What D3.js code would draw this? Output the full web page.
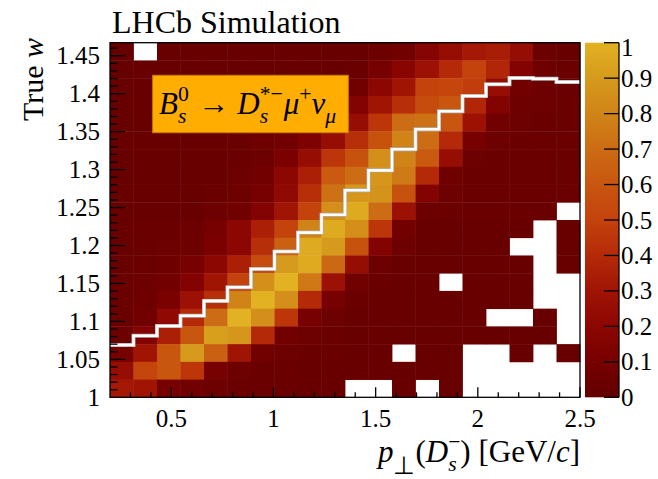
<!DOCTYPE html>
<html>
<head>
<meta charset="utf-8">
<script src="https://cdn.jsdelivr.net/npm/d3@7"></script>
<style>
  body { margin: 0; background: #fff; }
  svg { display: block; }
  text { font-family: "Liberation Serif", "Times New Roman", serif; fill: #000; }
</style>
</head>
<body>
<svg id="chart" width="658" height="479"></svg>
<script>
// binning of the 2D histogram
const ptRange = [0.2, 2.5];
const wRange = [1.0, 1.4672];
const nPt = 20;
const nW = 20;

// bin contents, one row per w bin, top row first (null = empty bin)
const z = [
  [0.02, null, 0.03, 0.03, 0.03, 0.03, 0.03, 0.03, 0.03, 0.03, 0.03, 0.05, 0.08, 0.17, 0.25, 0.32, 0.34, 0.25, 0.05, 0.03],
  [0.02, 0.03, 0.03, 0.03, 0.03, 0.03, 0.03, 0.03, 0.03, 0.03, 0.04, 0.10, 0.18, 0.28, 0.40, 0.50, 0.38, 0.15, 0.06, 0.04],
  [0.03, 0.03, 0.03, 0.03, 0.03, 0.03, 0.03, 0.03, 0.04, 0.05, 0.07, 0.20, 0.30, 0.50, 0.52, 0.48, 0.25, 0.08, 0.05, 0.04],
  [0.03, 0.03, 0.03, 0.03, 0.03, 0.03, 0.03, 0.04, 0.05, 0.08, 0.15, 0.30, 0.42, 0.55, 0.60, 0.38, 0.15, 0.06, 0.05, 0.04],
  [0.03, 0.03, 0.03, 0.03, 0.03, 0.03, 0.04, 0.05, 0.06, 0.12, 0.25, 0.45, 0.70, 0.72, 0.60, 0.28, 0.07, 0.05, 0.04, 0.04],
  [0.03, 0.03, 0.03, 0.03, 0.03, 0.04, 0.06, 0.08, 0.13, 0.25, 0.42, 0.58, 0.80, 0.70, 0.40, 0.10, 0.05, 0.04, 0.04, 0.04],
  [0.03, 0.03, 0.03, 0.03, 0.03, 0.04, 0.05, 0.12, 0.25, 0.45, 0.58, 0.85, 0.80, 0.62, 0.25, 0.05, 0.04, 0.04, 0.04, 0.04],
  [0.03, 0.03, 0.03, 0.03, 0.03, 0.05, 0.08, 0.20, 0.35, 0.62, 0.70, 0.88, 0.76, 0.40, 0.06, 0.04, 0.04, 0.04, 0.04, 0.04],
  [0.03, 0.03, 0.03, 0.03, 0.04, 0.06, 0.10, 0.22, 0.42, 0.72, 0.88, 0.87, 0.58, 0.15, 0.05, 0.04, 0.04, 0.04, 0.04, 0.04],
  [0.03, 0.03, 0.03, 0.03, 0.05, 0.07, 0.15, 0.30, 0.50, 0.85, 0.97, 0.70, 0.28, 0.05, 0.04, 0.04, 0.04, 0.04, 0.04, null],
  [0.03, 0.04, 0.04, 0.05, 0.10, 0.20, 0.35, 0.50, 0.80, 0.97, 0.85, 0.45, 0.08, 0.03, 0.03, 0.03, 0.03, 0.03, null, 0.03],
  [0.03, 0.04, 0.05, 0.06, 0.12, 0.20, 0.42, 0.65, 0.97, 0.90, 0.58, 0.15, 0.05, 0.03, 0.03, 0.03, 0.03, null, null, 0.03],
  [0.03, 0.04, 0.06, 0.10, 0.20, 0.35, 0.55, 0.90, 0.97, 0.68, 0.25, 0.05, 0.03, 0.03, 0.03, 0.03, 0.03, 0.03, null, 0.03],
  [0.04, 0.05, 0.08, 0.15, 0.30, 0.50, 0.85, 1.00, 0.75, 0.28, 0.07, 0.04, 0.03, 0.03, null, 0.03, 0.03, 0.03, null, null],
  [0.04, 0.06, 0.12, 0.28, 0.42, 0.80, 1.00, 0.85, 0.40, 0.10, 0.04, 0.03, 0.03, 0.03, 0.03, 0.03, 0.03, 0.03, null, null],
  [0.04, 0.08, 0.22, 0.40, 0.70, 1.00, 0.85, 0.45, 0.10, 0.05, 0.03, 0.03, 0.03, 0.03, 0.03, 0.03, null, null, 0.03, null],
  [0.05, 0.15, 0.35, 0.60, 0.92, 0.88, 0.40, 0.08, 0.05, 0.04, 0.03, 0.03, 0.03, 0.03, 0.03, 0.03, 0.03, 0.03, 0.03, null],
  [0.10, 0.30, 0.60, 0.90, 0.65, 0.30, 0.07, 0.05, 0.04, 0.04, 0.03, 0.03, null, 0.03, 0.03, null, null, 0.03, null, 0.03],
  [0.25, 0.52, 0.60, 0.45, 0.10, 0.05, 0.04, 0.04, 0.03, 0.03, 0.03, 0.03, 0.03, 0.03, 0.03, null, null, null, null, null],
  [0.32, 0.30, 0.10, 0.07, 0.05, 0.04, 0.04, 0.04, 0.03, 0.03, null, null, 0.03, null, 0.03, null, null, null, null, null]
];

// white step curve, one w value per pt bin
const wLine = [1.069, 1.081, 1.094, 1.1075, 1.127, 1.145, 1.169, 1.192, 1.217, 1.2406,
               1.2727, 1.299, 1.3268, 1.3532, 1.3769, 1.397, 1.4124, 1.4207, 1.4198, 1.4154];

const xTicks = [0.5, 1, 1.5, 2, 2.5];
const yTicks = [1, 1.05, 1.1, 1.15, 1.2, 1.25, 1.3, 1.35, 1.4, 1.45];
const zTicks = [0, 0.1, 0.2, 0.3, 0.4, 0.5, 0.6, 0.7, 0.8, 0.9, 1];

const paletteStops = [0, 0.1, 0.2, 0.3, 0.4, 0.5, 0.6, 0.7, 0.8, 0.9, 1];
const paletteColors = ['#620000', '#770000', '#8c0602', '#a01404', '#b42a08', '#c4420c',
                       '#c8560f', '#cc6c14', '#d08418', '#d69a1c', '#e2b222'];

const svg = d3.select('#chart');
const L = 110, R = 580, T = 42.7, B = 397.3;

const x = d3.scaleLinear().domain(ptRange).range([L, R]);
const y = d3.scaleLinear().domain(wRange).range([B, T]);
const color = d3.scaleLinear().domain(paletteStops).range(paletteColors).clamp(true);

const dPt = (ptRange[1] - ptRange[0]) / nPt;
const dW = (wRange[1] - wRange[0]) / nW;

// cells
const cells = [];
z.forEach((row, i) => {
  const iw = nW - 1 - i;
  row.forEach((v, j) => {
    if (v === null) return;
    cells.push({ x0: ptRange[0] + j * dPt, w0: wRange[0] + iw * dW, v });
  });
});

svg.append('g')
  .selectAll('rect')
  .data(cells)
  .join('rect')
  .attr('x', (d) => x(d.x0))
  .attr('y', (d) => y(d.w0 + dW))
  .attr('width', (d) => x(d.x0 + dPt) - x(d.x0) + 0.4)
  .attr('height', (d) => y(d.w0) - y(d.w0 + dW) + 0.4)
  .attr('fill', (d) => color(d.v));

// step line
const stepPts = [];
wLine.forEach((w, j) => {
  stepPts.push([x(ptRange[0] + j * dPt), y(w)]);
  stepPts.push([x(ptRange[0] + (j + 1) * dPt), y(w)]);
});
svg.append('path')
  .attr('d', d3.line()(stepPts))
  .attr('fill', 'none')
  .attr('stroke', '#b0b0b0')
  .attr('stroke-width', 4);
svg.append('path')
  .attr('d', d3.line()(stepPts))
  .attr('fill', 'none')
  .attr('stroke', '#fff')
  .attr('stroke-width', 2.6);

// axes (ticks inside the frame)
const axG = svg.append('g').attr('stroke', '#000').attr('stroke-width', 1.3);
d3.range(0.3, 2.5001, 0.1).forEach((v) => {
  const major = xTicks.some((t) => Math.abs(t - v) < 1e-6);
  axG.append('line').attr('x1', x(v)).attr('x2', x(v)).attr('y1', B).attr('y2', B - (major ? 10 : 5));
});
d3.range(1.01, 1.4601, 0.01).forEach((v) => {
  const major = yTicks.some((t) => Math.abs(t - v) < 1e-6);
  axG.append('line').attr('x1', L).attr('x2', L + (major ? 15 : 7.5)).attr('y1', y(v)).attr('y2', y(v));
});
svg.append('rect')
  .attr('x', L).attr('y', T).attr('width', R - L).attr('height', B - T)
  .attr('fill', 'none').attr('stroke', '#000').attr('stroke-width', 1.3);

svg.append('g')
  .selectAll('text')
  .data(xTicks)
  .join('text')
  .attr('x', (d) => x(d))
  .attr('y', 427)
  .attr('text-anchor', 'middle')
  .attr('font-size', 25)
  .text((d) => d);

svg.append('g')
  .selectAll('text')
  .data(yTicks)
  .join('text')
  .attr('x', 100)
  .attr('y', (d) => y(d) + 8.5)
  .attr('text-anchor', 'end')
  .attr('font-size', 25)
  .text((d) => d);

// colour bar
const cbL = 585, cbR = 619;
const zScale = d3.scaleLinear().domain([0, 1]).range([B, T]);
const grad = svg.append('defs').append('linearGradient')
  .attr('id', 'pal').attr('x1', 0).attr('y1', 1).attr('x2', 0).attr('y2', 0);
paletteStops.forEach((s, i) => grad.append('stop').attr('offset', s).attr('stop-color', paletteColors[i]));
svg.append('rect')
  .attr('x', cbL).attr('y', T).attr('width', cbR - cbL).attr('height', B - T)
  .attr('fill', 'url(#pal)');
svg.append('line')
  .attr('x1', cbR).attr('x2', cbR).attr('y1', T).attr('y2', B)
  .attr('stroke', '#000').attr('stroke-width', 1.3);
svg.append('g')
  .selectAll('line')
  .data(zTicks)
  .join('line')
  .attr('x1', cbR).attr('x2', cbR - 15)
  .attr('y1', (d) => zScale(d)).attr('y2', (d) => zScale(d))
  .attr('stroke', '#000').attr('stroke-width', 1.3);
svg.append('g')
  .selectAll('text')
  .data(zTicks)
  .join('text')
  .attr('x', 621)
  .attr('y', (d) => zScale(d) + 8.5 + (d === 1 ? 5 : 0))
  .attr('font-size', 25)
  .text((d) => d);

// rich text helper: pieces laid out left to right
function rich(parent, parts, fs) {
  const g = parent.append('g');
  let cx = 0;
  parts.forEach((p) => {
    if (p.sub !== undefined || p.sup !== undefined) {
      let w = 0;
      if (p.sup !== undefined) {
        const t = g.append('text').attr('x', cx).attr('y', -fs * 0.42)
          .attr('font-size', fs * 0.7).attr('font-style', p.supIt ? 'italic' : 'normal').text(p.sup);
        w = Math.max(w, t.node().getComputedTextLength());
      }
      if (p.sub !== undefined) {
        const t = g.append('text').attr('x', cx).attr('y', fs * (p.low || 0.28))
          .attr('font-size', fs * (p.subSize || 0.7)).attr('font-style', p.subIt ? 'italic' : 'normal').text(p.sub);
        w = Math.max(w, t.node().getComputedTextLength());
      }
      cx += w + (p.gap || 0);
    } else {
      const t = g.append('text').attr('x', cx).attr('y', 0)
        .attr('font-size', fs).attr('font-style', p.it ? 'italic' : 'normal').text(p.t);
      t.style('white-space', 'pre');
      cx += t.node().getComputedTextLength();
    }
  });
  return { g, width: cx };
}

// legend box
svg.append('rect')
  .attr('x', 152.7).attr('y', 75.3).attr('width', 195.6).attr('height', 57.4)
  .attr('fill', '#ffad00').attr('stroke', '#c98600').attr('stroke-width', 1);
const leg = rich(svg, [
  { t: 'B', it: true },
  { sup: '0', sub: 's', subIt: true, gap: 2 },
  { t: ' → ' },
  { t: 'D', it: true },
  { sup: '*−', sub: 's', subIt: true, gap: 1 },
  { t: 'μ', it: true },
  { sup: '+' },
  { t: 'ν', it: true },
  { sub: 'μ', subIt: true }
], 31);
leg.g.attr('transform', `translate(159,114)`);

// x title
const xt = rich(svg, [
  { t: 'p', it: true },
  { sub: '⊥', low: 0.4, subSize: 0.8 },
  { t: '(' },
  { t: 'D', it: true },
  { sup: '−', sub: 's', subIt: true },
  { t: ') [GeV/' },
  { t: 'c', it: true },
  { t: ']' }
], 31);
xt.g.attr('transform', `translate(${R - xt.width},462)`);

// y title
svg.append('text')
  .attr('transform', 'translate(43,38) rotate(-90)')
  .attr('text-anchor', 'end')
  .attr('font-size', 30)
  .html('True <tspan font-style="italic">w</tspan>');

// header
svg.append('text')
  .attr('x', 112)
  .attr('y', 33)
  .attr('font-size', 32)
  .text('LHCb Simulation');
</script>
</body>
</html>
